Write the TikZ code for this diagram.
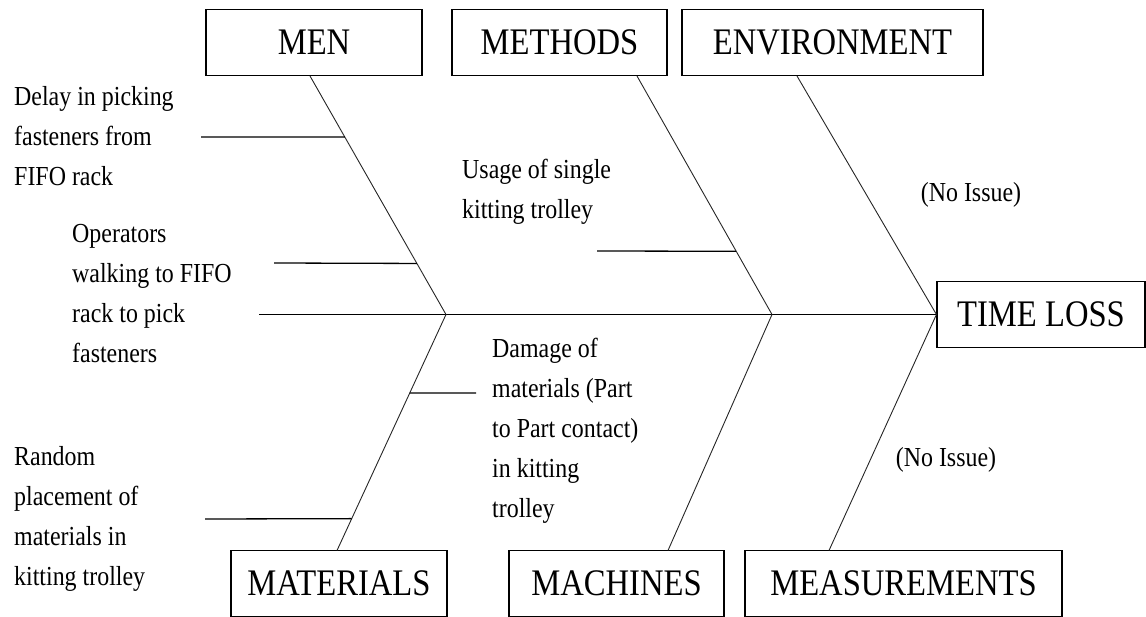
\documentclass[tikz,border=0pt]{standalone}
\usepackage{fontspec}
\setmainfont{Liberation Serif}[FakeStretch=0.87]
\usetikzlibrary{calc}

\begin{document}
\begin{tikzpicture}[x=1pt, y=-1pt,
    catbox/.style={draw, line width=1.1pt, inner sep=0pt, minimum height=66pt,
                   font=\fontsize{37.5}{40}\selectfont},
    note/.style={align=left, inner sep=0pt, font=\fontsize{27.5}{40}\selectfont},
    bone/.style={line width=0.9pt, black!85},
    twig/.style={line width=1.3pt}]
\useasboundingbox (0, 0) rectangle (1146, 617);

        % Draw the boxes
        \node[catbox, minimum width=216pt] at (314, 42.5)      (men)    {MEN};
        \node[catbox, minimum width=215pt] at (559.5, 42.5)    (meth)   {METHODS};
        \node[catbox, minimum width=301pt] at (832.5, 42.5)    (env)    {ENVIRONMENT};
        \node[catbox, minimum width=208pt] at (1041, 314.5)    (loss)   {TIME LOSS};
        \node[catbox, minimum width=216pt] at (339, 583.5)     (mat)    {MATERIALS};
        \node[catbox, minimum width=215pt] at (616.5, 583.5)   (mach)   {MACHINES};
        \node[catbox, minimum width=317pt] at (903.5, 583.5)   (meas)   {MEASUREMENTS};

        % Bone ends and junctions
        \coordinate (tail)   at (259, 314.5);
        \coordinate (j1)     at (446, 314.5);
        \coordinate (j2)     at (772, 314.5);
        \coordinate (menT)   at (310, 76);
        \coordinate (methT)  at (637, 76);
        \coordinate (envT)   at (797, 76);
        \coordinate (matT)   at (337, 550.5);
        \coordinate (machT)  at (668, 550.5);
        \coordinate (measT)  at (829, 550.5);

        % Causes
        \node[note, anchor=west] at (14, 136)    (delay)  {Delay in picking\\fasteners from\\FIFO rack};
        \node[note, anchor=west] at (72, 294)    (walk)   {Operators\\walking to FIFO\\rack to pick\\fasteners};
        \node[note, anchor=west] at (462, 192)   (single) {Usage of single\\kitting trolley};
        \node[note, anchor=west] at (492, 431)   (damage) {Damage of\\materials (Part\\to Part contact)\\in kitting\\trolley};
        \node[note, anchor=west] at (14, 519)    (random) {Random\\placement of\\materials in\\kitting trolley};
        \node[note] at (971, 195)                (envok)  {(No Issue)};
        \node[note] at (946, 460)                (measok) {(No Issue)};

        % Free ends of the twigs
        \coordinate (t1) at (201, 137);
        \coordinate (t2) at (274, 263);
        \coordinate (t3) at (597, 251);
        \coordinate (t4) at (476, 393);
        \coordinate (t5) at (205, 519);

\draw[twig]  (tail) edge (loss.west);

\draw[bone]  (menT) edge (j1);
\draw[bone]  (methT) edge (j2);
\draw[bone]  (envT) edge (loss.west);
\draw[bone]  (matT) edge (j1);
\draw[bone]  (machT) edge (j2);
\draw[bone]  (measT) edge (loss.west);

\draw[twig]  (t1) edge ($(menT)!0.256!(j1)$);
\draw[twig]  (t2) edge ($(menT)!0.786!(j1)$);
\draw[twig]  (t3) edge ($(methT)!0.735!(j2)$);
\draw[twig]  (t4) edge ($(matT)!0.667!(j1)$);
\draw[twig]  (t5) edge ($(matT)!0.135!(j1)$);
\end{tikzpicture}
\end{document}
